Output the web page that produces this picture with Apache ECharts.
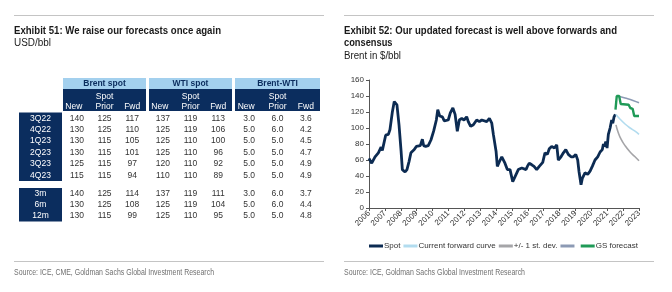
<!DOCTYPE html>
<html>
<head>
<meta charset="utf-8">
<script src="https://cdn.jsdelivr.net/npm/echarts@6/dist/echarts.min.js"></script>
<style>
  html, body { margin: 0; padding: 0; background: #fff; }
  #main { width: 672px; height: 292px; }
</style>
</head>
<body>
<div id="main"></div>
<script>
// ---- table data (Exhibit 51) ----
const tableGroups = ['Brent spot', 'WTI spot', 'Brent-WTI'];
const tableCols = ['New', 'Prior', 'Fwd'];
const quarterLabels = ['3Q22', '4Q22', '1Q23', '2Q23', '3Q23', '4Q23'];
const quarterRows = [
  ['140', '125', '117', '137', '119', '113', '3.0', '6.0', '3.6'],
  ['130', '125', '110', '125', '119', '106', '5.0', '6.0', '4.2'],
  ['130', '115', '105', '125', '110', '100', '5.0', '5.0', '4.5'],
  ['130', '115', '101', '125', '110', '96', '5.0', '5.0', '4.7'],
  ['125', '115', '97', '120', '110', '92', '5.0', '5.0', '4.9'],
  ['115', '115', '94', '110', '110', '89', '5.0', '5.0', '4.9']
];
const horizonLabels = ['3m', '6m', '12m'];
const horizonRows = [
  ['140', '125', '114', '137', '119', '111', '3.0', '6.0', '3.7'],
  ['130', '125', '108', '125', '119', '104', '5.0', '6.0', '4.4'],
  ['130', '115', '99', '125', '110', '95', '5.0', '5.0', '4.8']
];

// ---- chart data (Exhibit 52), [axis year, $/bbl] ----
const yearTicks = [2006, 2023];
const spot = [
  [2006.00, 62], [2006.17, 56], [2006.38, 64], [2006.59, 69], [2006.76, 76], [2006.84, 72],
  [2007.05, 91], [2007.22, 92], [2007.32, 98], [2007.47, 120], [2007.59, 133], [2007.68, 135],
  [2007.76, 129], [2007.89, 104], [2008.02, 71], [2008.10, 48], [2008.27, 45], [2008.39, 48],
  [2008.52, 58], [2008.64, 69], [2008.73, 67], [2008.85, 73], [2008.98, 77], [2009.10, 77],
  [2009.23, 78], [2009.36, 86], [2009.44, 78], [2009.57, 77], [2009.73, 78], [2009.90, 85],
  [2010.07, 96], [2010.24, 110], [2010.33, 123], [2010.45, 115], [2010.62, 114], [2010.74, 109],
  [2010.99, 110], [2011.12, 119], [2011.28, 125], [2011.42, 117], [2011.56, 96], [2011.69, 110],
  [2011.84, 112], [2011.98, 110], [2012.15, 114], [2012.25, 108], [2012.40, 102], [2012.57, 104],
  [2012.78, 110], [2012.95, 108], [2013.10, 110], [2013.20, 108], [2013.41, 108], [2013.58, 112],
  [2013.73, 106], [2013.83, 92], [2014.00, 71], [2014.08, 52], [2014.21, 58], [2014.36, 64],
  [2014.46, 66], [2014.56, 56], [2014.71, 48], [2014.88, 48], [2015.05, 33], [2015.19, 39],
  [2015.40, 48], [2015.51, 46], [2015.62, 50], [2015.72, 48], [2015.89, 48], [2015.97, 52],
  [2016.09, 56], [2016.25, 54], [2016.39, 52], [2016.56, 48], [2016.72, 52], [2016.94, 57],
  [2017.08, 69], [2017.23, 67], [2017.35, 74], [2017.50, 77], [2017.67, 75], [2017.82, 79],
  [2017.92, 60], [2018.09, 64], [2018.24, 69], [2018.39, 73], [2018.55, 67], [2018.72, 64],
  [2018.87, 64], [2019.02, 67], [2019.14, 60], [2019.22, 46], [2019.35, 29], [2019.43, 37],
  [2019.60, 44], [2019.77, 42], [2019.92, 46], [2020.06, 52], [2020.23, 60], [2020.40, 64],
  [2020.55, 70], [2020.69, 73], [2020.76, 80], [2020.82, 77], [2020.91, 83], [2020.99, 75],
  [2021.07, 92], [2021.18, 100], [2021.28, 110], [2021.35, 106], [2021.43, 114], [2021.51, 117]
];
const forwardCurve = [
  [2021.55, 117], [2021.81, 111], [2022.12, 105], [2022.44, 100], [2022.75, 96], [2023.00, 92]
];
const stDevLow = [
  [2021.55, 104], [2021.68, 95], [2021.87, 86], [2022.12, 78], [2022.44, 70], [2022.75, 64], [2023.00, 59]
];
const stDevHigh = [
  [2021.66, 140], [2022.12, 137.5], [2022.62, 134.5], [2023.00, 131.5]
];
const gsForecast = [
  [2021.52, 123], [2021.60, 140], [2021.75, 140], [2021.85, 130], [2022.35, 129], [2022.45, 125],
  [2022.60, 124], [2022.70, 115], [2023.00, 115]
];

const NAVY = '#0b2d5e';
const LIGHT = '#a3d0ee';
const FONT = '"Liberation Sans", Arial, sans-serif';

// squeeze a heading into the width it takes in the original (condensed face)
const measureCtx = document.createElement('canvas').getContext('2d');
function squeeze(s, size, weight, width) {
  measureCtx.font = weight + ' ' + size + 'px ' + FONT;
  return Math.min(1, width / measureCtx.measureText(s).width);
}

function txt(x, y, s, o) {
  return {
    type: 'text', x: x, y: y, silent: true,
    style: Object.assign({ text: s, fontFamily: FONT, fontSize: 8.5, fill: '#333',
      align: 'center', verticalAlign: 'middle' }, o || {})
  };
}
function heading(x, y, s, size, weight, width, color) {
  const t = txt(x, y, s, { align: 'left', fontSize: size, fontWeight: weight, fill: color });
  t.scaleX = squeeze(s, size, weight, width);
  return t;
}
function box(x, y, w, h, c) {
  return { type: 'rect', silent: true, shape: { x: x, y: y, width: w, height: h }, style: { fill: c } };
}
function rule(x1, x2, y) {
  return { type: 'line', silent: true, shape: { x1: x1, y1: y, x2: x2, y2: y }, style: { stroke: '#c4c4c4', lineWidth: 1 } };
}

// build the table out of graphic elements
function buildTable() {
  const els = [];
  const groupX = [[63, 146], [149, 232], [235, 320]];
  const colCenters = [];
  groupX.forEach(function (g, gi) {
    const w = g[1] - g[0];
    els.push(box(g[0], 78, w, 11, LIGHT));
    els.push(box(g[0], 89, w, 22, NAVY));
    els.push(txt((g[0] + g[1]) / 2, 83.5, tableGroups[gi], { fontWeight: 'bold', fill: NAVY }));
    els.push(txt(g[0] + w / 2, 96.5, 'Spot', { fill: '#fff' }));
    tableCols.forEach(function (c, ci) {
      const cx = g[0] + w / 6 + ci * w / 3;
      colCenters.push(cx);
      els.push(txt(cx + (ci === 0 ? -3 : 0), 106.5, c, { fill: '#fff' }));
    });
  });
  function block(labels, rows, top, rh) {
    els.push(box(19, top, 43, rh * labels.length, NAVY));
    labels.forEach(function (l, ri) {
      const cy = top + rh * ri + rh / 2;
      els.push(txt(40.5, cy, l, { fill: '#fff' }));
      rows[ri].forEach(function (v, ci) {
        els.push(txt(colCenters[ci], cy, v));
      });
    });
  }
  block(quarterLabels, quarterRows, 112.5, 11.4);
  block(horizonLabels, horizonRows, 188, 11.2);
  return els;
}

const headerEls = [
  rule(14, 324, 15.5), rule(344, 654, 15.5), rule(14, 324, 261.5), rule(344, 654, 261.5),
  heading(14, 31, 'Exhibit 51: We raise our forecasts once again', 11.5, 'bold', 207, '#1a1a1a'),
  heading(14, 43.5, 'USD/bbl', 10, 'normal', 37, '#1a1a1a'),
  heading(344, 31, 'Exhibit 52: Our updated forecast is well above forwards and', 11.5, 'bold', 273, '#1a1a1a'),
  heading(344, 43, 'consensus', 11.5, 'bold', 48.5, '#1a1a1a'),
  heading(344, 56, 'Brent in $/bbl', 10, 'normal', 57, '#1a1a1a'),
  heading(14, 272, 'Source: ICE, CME, Goldman Sachs Global Investment Research', 9.5, 'normal', 200, '#707070'),
  heading(344, 272, 'Source: ICE, Goldman Sachs Global Investment Research', 9.5, 'normal', 181, '#707070')
];

var myChart = echarts.init(document.getElementById('main'));
const option = {
  animation: false,
  backgroundColor: '#fff',
  textStyle: { fontFamily: FONT },
  graphic: headerEls.concat(buildTable()),
  grid: { left: 369, right: 33, top: 80, bottom: 84, outerBoundsMode: 'none' },
  legend: {
    left: 364, top: 237,
    itemWidth: 14, itemHeight: 3, itemGap: 3,
    icon: 'rect',
    textStyle: { fontSize: 8, color: '#333', padding: [0, 0, 0, -4] },
    data: ['Spot', 'Current forward curve', '+/- 1 st. dev.', ' ', 'GS forecast']
  },
  xAxis: {
    type: 'value', min: yearTicks[0], max: yearTicks[1], interval: 1,
    axisLine: { lineStyle: { color: '#555' } },
    axisTick: { show: true, length: 3, lineStyle: { color: '#555' } },
    splitLine: { show: false },
    axisLabel: { rotate: 45, fontSize: 8, color: '#333', margin: 4, formatter: function (v) { return String(v); } }
  },
  yAxis: {
    type: 'value', min: 0, max: 160, interval: 20,
    axisLine: { show: true, lineStyle: { color: '#555' } },
    axisTick: { show: true, length: 3, lineStyle: { color: '#555' } },
    splitLine: { show: false },
    axisLabel: { fontSize: 8, color: '#333', margin: 5 }
  },
  series: [
    { name: 'Spot', type: 'line', data: spot, showSymbol: false, color: '#0c2b52',
      lineStyle: { width: 2.8 } },
    { name: 'Current forward curve', type: 'line', data: forwardCurve, showSymbol: false, smooth: true,
      color: '#b2dcef', lineStyle: { width: 1.6 } },
    { name: '+/- 1 st. dev.', type: 'line', data: stDevLow, showSymbol: false, smooth: true,
      color: '#a5a5a8', lineStyle: { width: 1.6 } },
    { name: ' ', type: 'line', data: stDevHigh, showSymbol: false, smooth: true,
      color: '#8c9ab4', lineStyle: { width: 1.6 } },
    { name: 'GS forecast', type: 'line', data: gsForecast, showSymbol: false, color: '#1f9a57',
      lineStyle: { width: 2.4 } }
  ]
};
myChart.setOption(option);
</script>
</body>
</html>
